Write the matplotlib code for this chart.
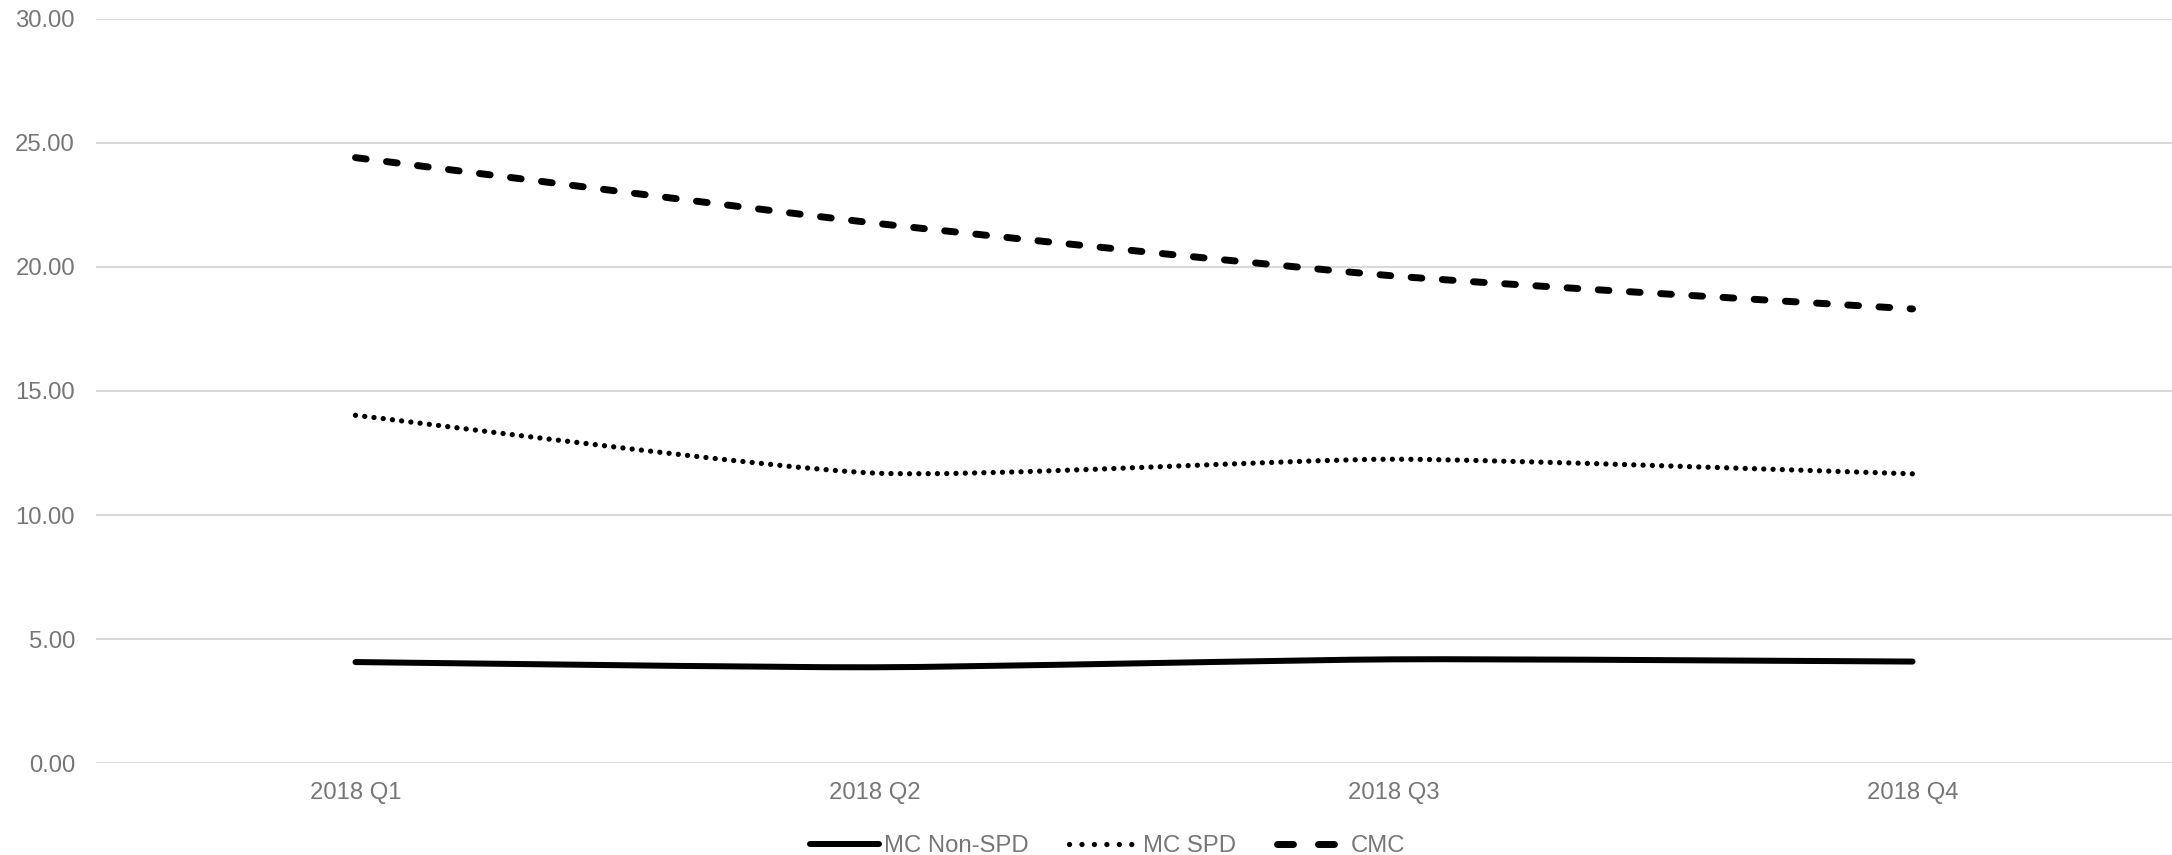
import numpy as np
import matplotlib
matplotlib.use('Agg')
import matplotlib.pyplot as plt
from matplotlib.path import Path
from matplotlib.patches import PathPatch
from matplotlib.lines import Line2D

quarters = ['2018 Q1', '2018 Q2', '2018 Q3', '2018 Q4']
mc_non_spd = [4.07, 3.86, 4.18, 4.09]
mc_spd = [14.02, 11.69, 12.25, 11.66]
cmc = [24.41, 21.77, 19.64, 18.31]
y_ticks = [0, 5, 10, 15, 20, 25, 30]

TEXT_GREY = '#767676'
GRID_GREY = '#d9d9d9'

plt.rcParams['font.family'] = ['Liberation Sans', 'DejaVu Sans']


def smooth_path(x, y, k=0.1):
    # cubic bezier through the points, only lightly rounded at the joins
    pts = np.column_stack([x, y]).astype(float)
    padded = np.vstack([pts[0], pts, pts[-1]])
    verts = [pts[0]]
    codes = [Path.MOVETO]
    for i in range(len(pts) - 1):
        p0, p1, p2, p3 = padded[i], padded[i + 1], padded[i + 2], padded[i + 3]
        verts += [p1 + (p2 - p0) * k, p2 - (p3 - p1) * k, p2]
        codes += [Path.CURVE4] * 3
    return Path(verts, codes)


# name, values, width, line style, legend style
series = [
    ('MC Non-SPD', mc_non_spd, 2.16, '-', '-'),
    ('MC SPD', mc_spd, 1.9, (0, (0.01, 1.75)), (0, (0.01, 2.35))),
    ('CMC', cmc, 2.5, (0, (1.55, 2.95)), (0, (2.3, 3.6))),
]

fig = plt.figure(figsize=(10.86, 4.275), dpi=200)
ax = fig.add_axes([96 / 2172, 1 - 763 / 855, 1 - 96 / 2172, (763 - 19) / 855])

x = np.arange(len(quarters))
handles = []
for name, values, lw, ls, legend_ls in series:
    patch = PathPatch(smooth_path(x, values), fill=False, edgecolor='black',
                      linewidth=lw, linestyle=ls, capstyle='round', joinstyle='round',
                      zorder=3)
    ax.add_patch(patch)
    handles.append(Line2D([], [], color='black', linewidth=lw, linestyle=legend_ls,
                          dash_capstyle='round', solid_capstyle='round', label=name))

ax.set_xlim(-0.5, len(quarters) - 0.5)
ax.set_ylim(0, 30)
ax.set_xticks(x)
ax.set_xticklabels(quarters)
ax.set_yticks(y_ticks)
ax.set_yticklabels([f'{v:.2f}' for v in y_ticks])
ax.tick_params(axis='both', length=0, labelsize=8.6, labelcolor=TEXT_GREY)
ax.tick_params(axis='y', pad=7.6)
ax.tick_params(axis='x', pad=6.8)
ax.grid(axis='y', color=GRID_GREY, linewidth=0.75)
ax.set_axisbelow(True)
for spine in ax.spines.values():
    spine.set_visible(False)

fig.legend(handles=handles, loc='lower center', bbox_to_anchor=(0.51, -0.022), ncol=3,
           frameon=False, fontsize=8.6, labelcolor=TEXT_GREY, handlelength=2.9,
           handletextpad=0.2, columnspacing=1.7, borderpad=0.2)

fig.savefig('out.png', dpi=200, facecolor='white')
